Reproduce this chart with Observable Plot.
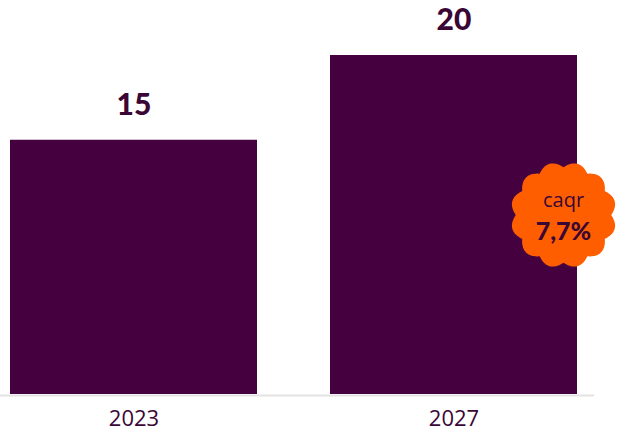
<!DOCTYPE html>
<html>
<head>
<meta charset="utf-8">
<script src="https://cdn.jsdelivr.net/npm/d3@7"></script>
<script src="https://cdn.jsdelivr.net/npm/@observablehq/plot@0.6"></script>
<style>
  html, body { margin: 0; padding: 0; background: #fff; }
  #chart svg { display: block; }
</style>
</head>
<body>
<div id="chart"></div>
<script>
const years = ["2023", "2027"];
const values = [15, 20];
const cagrLabel = "caqr";
const cagrValue = "7,7%";

const data = years.map((y, i) => ({year: y, value: values[i]}));
const badge = [{label: cagrLabel, value: cagrValue}];

const purple = "#45003f";
const textPurple = "#3a0735";
const orange = "#ff5e00";

function scallop(n) {
  return {
    draw(ctx, size) {
      const R = Math.sqrt(size / Math.PI);
      const steps = 360;
      for (let i = 0; i <= steps; i++) {
        const t = (i / steps) * 2 * Math.PI;
        const r = R * (0.9 + 0.1 * Math.abs(Math.sin(n * t / 2)));
        const x = r * Math.cos(t), y = r * Math.sin(t);
        if (i === 0) ctx.moveTo(x, y); else ctx.lineTo(x, y);
      }
      ctx.closePath();
    }
  };
}

const chart = Plot.plot({
  width: 624,
  height: 432,
  marginTop: 55,
  marginBottom: 38,
  marginLeft: 9,
  marginRight: 46,
  x: {domain: years, paddingInner: 0.227, paddingOuter: 0, axis: null},
  y: {domain: [0, 20], axis: null},
  style: {background: "transparent"},
  marks: [
    Plot.ruleY([0], {stroke: "#e3e3e3", strokeWidth: 2, insetLeft: -9, insetRight: -16, dy: 1}),
    Plot.barY(data, {x: "year", y: "value", fill: purple}),
    Plot.text(data, {x: "year", y: "value", text: d => String(d.value), dy: -35,
      fill: textPurple, fontSize: 30, fontWeight: 900, fontFamily: "Lato"}),
    Plot.axisX({label: null, tickSize: 0, tickPadding: 16, fontSize: 22, fontFamily: "Open Sans",
      fill: textPurple, color: textPurple}),
    Plot.dot(badge, {frameAnchor: "right", dx: -15, dy: -10, r: 53,
      symbol: scallop(12), fill: orange, stroke: "none"}),
    Plot.text(badge, {frameAnchor: "right", textAnchor: "middle", dx: -15, dy: -24, text: "label",
      fill: textPurple, fontSize: 20, fontFamily: "Open Sans"}),
    Plot.text(badge, {frameAnchor: "right", textAnchor: "middle", dx: -15, dy: 7, text: "value",
      fill: textPurple, fontSize: 25, fontWeight: 900, fontFamily: "Lato"})
  ]
});
document.getElementById("chart").append(chart);
</script>
</body>
</html>
